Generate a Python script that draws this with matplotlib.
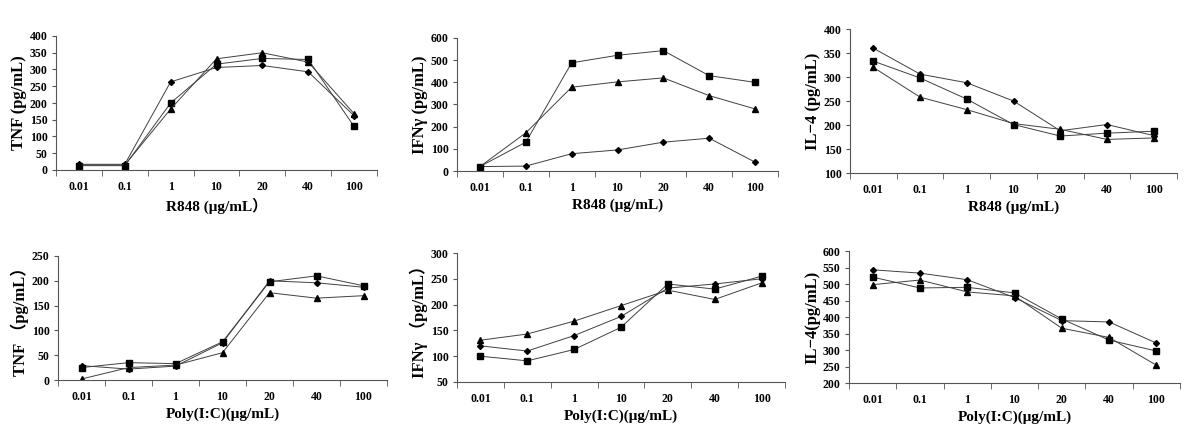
import numpy as np
import matplotlib
matplotlib.use('Agg')
import matplotlib.pyplot as plt

plt.rcParams['font.family'] = ['Liberation Serif', 'Noto Sans CJK SC', 'DejaVu Sans']
plt.rcParams['font.weight'] = 'bold'

# concentrations (category axis)
conc = ['0.01', '0.1', '1', '10', '20', '40', '100']

# R848 stimulation
tnf_r848_diamond = [17, 17, 263, 306, 312, 293, 162]
tnf_r848_square = [13, 13, 200, 316, 333, 330, 130]
tnf_r848_triangle = [15, 15, 182, 332, 350, 322, 168]

ifn_r848_diamond = [20, 22, 78, 95, 130, 148, 40]
ifn_r848_square = [20, 130, 488, 522, 543, 430, 400]
ifn_r848_triangle = [20, 172, 378, 402, 420, 340, 280]

il4_r848_diamond = [360, 306, 288, 250, 188, 201, 178]
il4_r848_square = [333, 298, 254, 201, 177, 183, 187]
il4_r848_triangle = [320, 258, 232, 203, 191, 170, 173]

# Poly(I:C) stimulation
tnf_poly_diamond = [29, 22, 28, 75, 200, 196, 187]
tnf_poly_square = [25, 35, 33, 77, 198, 210, 190]
tnf_poly_triangle = [2, 25, 30, 55, 176, 165, 170]

ifn_poly_diamond = [120, 110, 140, 177, 232, 240, 250]
ifn_poly_square = [100, 91, 113, 156, 240, 230, 255]
ifn_poly_triangle = [131, 143, 168, 198, 228, 210, 242]

il4_poly_diamond = [543, 533, 513, 459, 389, 385, 321]
il4_poly_square = [521, 488, 490, 473, 394, 330, 297]
il4_poly_triangle = [498, 512, 476, 464, 366, 338, 254]

W, H = 1200, 448
fig = plt.figure(figsize=(W / 100, H / 100), dpi=100)


def panel(box, series, ylim, ystep, ylabel, xlabel):
    l, r, t, b = box
    ax = fig.add_axes([l / W, 1 - b / H, (r - l) / W, (b - t) / H])
    x = np.arange(len(conc))
    d, s, tr = series
    ax.plot(x, d, color='#404040', lw=0.7, marker='D', ms=3, mfc='black', mec='black')
    ax.plot(x, s, color='#404040', lw=0.7, marker='s', ms=4.5, mfc='black', mec='black')
    ax.plot(x, tr, color='#404040', lw=0.7, marker='^', ms=4, mfc='black', mec='black')
    ax.set_xlim(-0.5, len(conc) - 0.5)
    ax.set_ylim(*ylim)
    ax.set_yticks(np.arange(ylim[0], ylim[1] + 1, ystep))
    ax.set_xticks(x)
    ax.set_xticklabels(conc)
    ax.set_xticks(np.arange(-0.5, len(conc)), minor=True)
    ax.tick_params(axis='x', which='major', length=0, pad=8, labelsize=8.5)
    ax.tick_params(axis='x', which='minor', length=4, direction='out', color='#555555')
    ax.tick_params(axis='y', length=3, direction='out', pad=3, labelsize=8.5, color='#555555')
    for lab in ax.get_xticklabels() + ax.get_yticklabels():
        lab.set_fontweight('bold')
    for side in ['top', 'right']:
        ax.spines[side].set_visible(False)
    for side in ['left', 'bottom']:
        ax.spines[side].set_color('#555555')
        ax.spines[side].set_linewidth(0.8)
    ax.set_ylabel(ylabel, fontsize=12, fontweight='bold', labelpad=2)
    ax.set_xlabel(xlabel, fontsize=11, fontweight='bold', labelpad=3)
    return ax


panel((56, 377, 36, 170), (tnf_r848_diamond, tnf_r848_square, tnf_r848_triangle),
      (0, 400), 50, 'TNF (pg/mL)', 'R848 (μg/mL）')
panel((457, 778, 38, 171), (ifn_r848_diamond, ifn_r848_square, ifn_r848_triangle),
      (0, 600), 100, 'IFNγ (pg/mL)', 'R848 (μg/mL)')
panel((850, 1177, 29, 173), (il4_r848_diamond, il4_r848_square, il4_r848_triangle),
      (100, 400), 50, 'IL−4 (pg/mL)', 'R848 (μg/mL)')

panel((58, 387, 256, 380), (tnf_poly_diamond, tnf_poly_square, tnf_poly_triangle),
      (0, 250), 50, 'TNF （pg/mL）', 'Poly(I:C)(μg/mL)')
panel((457, 785, 253, 382), (ifn_poly_diamond, ifn_poly_square, ifn_poly_triangle),
      (50, 300), 50, 'IFNγ （pg/mL）', 'Poly(I:C)(μg/mL)')
panel((849, 1180, 251, 383), (il4_poly_diamond, il4_poly_square, il4_poly_triangle),
      (200, 600), 50, 'IL−4(pg/mL)', 'Poly(I:C)(μg/mL)')

plt.savefig('out.png', dpi=100)
